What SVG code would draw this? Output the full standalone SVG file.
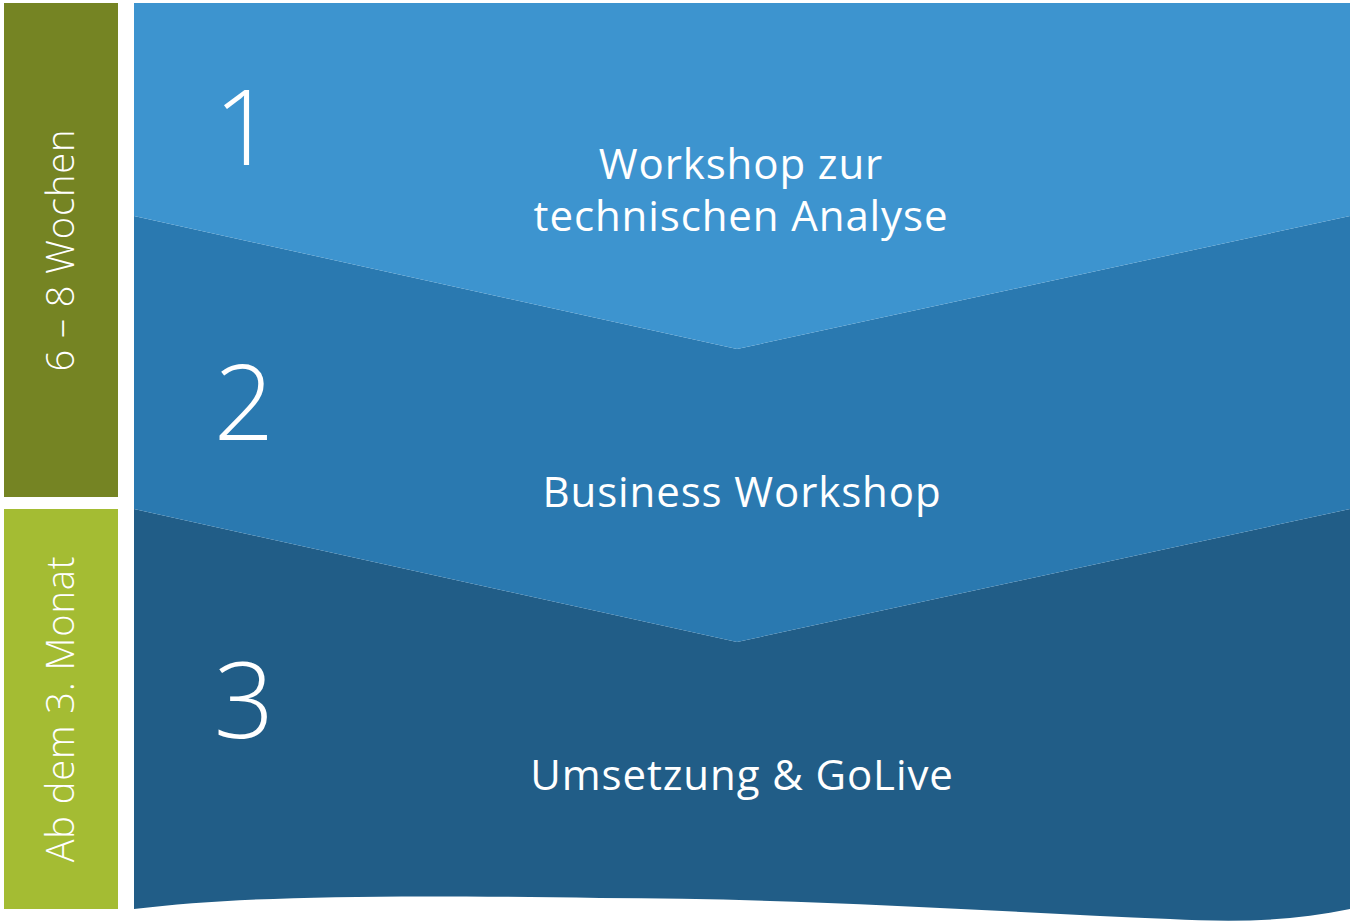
<svg xmlns="http://www.w3.org/2000/svg" width="1356" height="923" viewBox="0 0 1356 923">
<style>
.side{fill:#fff;font-family:"Open Sans","Noto Sans",sans-serif;font-weight:300;font-size:38px;letter-spacing:0.9px;text-anchor:middle}
.num{fill:#fff;font-family:"Open Sans","Noto Sans",sans-serif;font-weight:300;font-size:106px;text-anchor:middle}
.title{fill:#fff;font-family:"Open Sans","Noto Sans",sans-serif;font-weight:400;font-size:42px;letter-spacing:0.9px;text-anchor:middle}
</style>
<rect width="1356" height="923" fill="#fff"/>
<g id="bar1">
<rect x="4" y="3" width="114" height="494" fill="#758423"/>
<text class="side" transform="translate(74,250) rotate(-90)">6 – 8 Wochen</text>
</g>
<g id="bar2">
<rect x="4" y="509" width="114" height="400" fill="#A4BC33"/>
<text class="side" transform="translate(74,709) rotate(-90)">Ab dem 3. Monat</text>
</g>
<g id="step3">
<path d="M134,509 L737,642 L1350,509 L1350,909 C1290,922 1230,922 1170,919 C1000,912 800,898 600,898 C400,895 250,895 134,909 Z" fill="#215D87"/>
<text class="num" x="244" y="738">3</text>
<text class="title" x="742" y="790">Umsetzung &amp; GoLive</text>
</g>
<g id="step2">
<path d="M134,216 L737,349 L1350,216 L1350,509 L737,642 L134,509 Z" fill="#2A79B0"/>
<text class="num" x="244" y="440">2</text>
<text class="title" x="742" y="507">Business Workshop</text>
</g>
<g id="step1">
<path d="M134,3 L1350,3 L1350,216 L737,349 L134,216 Z" fill="#3D94CF"/>
<text class="num" x="244" y="165">1</text>
<text class="title" x="741" y="179">Workshop zur</text>
<text class="title" x="741" y="231">technischen Analyse</text>
</g>
<g id="connectors"/>
</svg>
